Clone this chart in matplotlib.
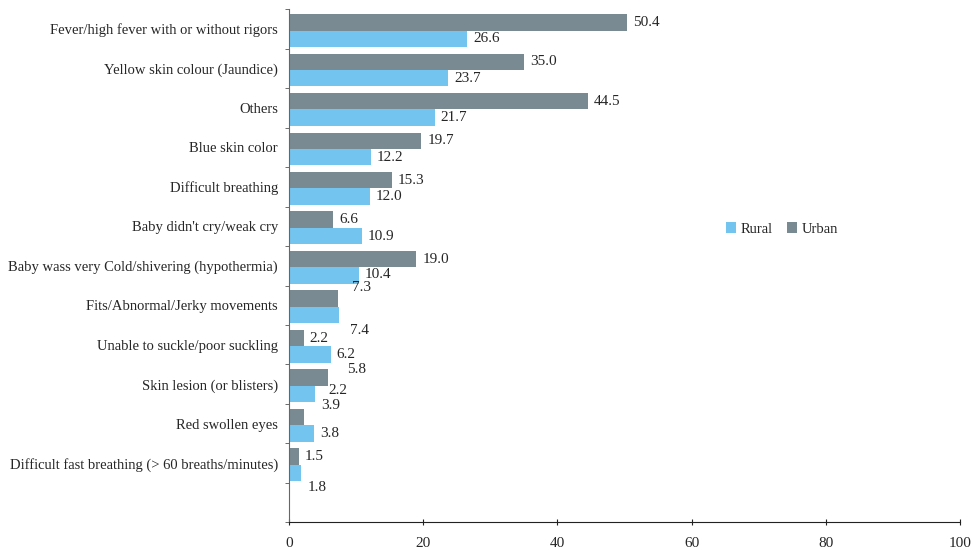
import matplotlib.pyplot as plt
import numpy as np

categories = [
    "Fever/high fever with or without rigors",
    "Yellow skin colour (Jaundice)",
    "Others",
    "Blue skin color",
    "Difficult breathing",
    "Baby didn't cry/weak cry",
    "Baby wass very Cold/shivering (hypothermia)",
    "Fits/Abnormal/Jerky movements",
    "Unable to suckle/poor suckling",
    "Skin lesion (or blisters)",
    "Red swollen eyes",
    "Difficult fast breathing (> 60 breaths/minutes)",
]
urban = [50.4, 35.0, 44.5, 19.7, 15.3, 6.6, 19.0, 7.3, 2.2, 5.8, 2.2, 1.5]
rural = [26.6, 23.7, 21.7, 12.2, 12.0, 10.9, 10.4, 7.4, 6.2, 3.9, 3.8, 1.8]

# label nudges (in pixels) copied from the source, where labels were dragged around
urban_nudge = {7: (8, 11), 9: (13, 8), 10: (19, 26)}
rural_nudge = {6: (0, 1), 7: (5, -16), 9: (0, -12), 11: (1, -15)}

plt.rcParams['font.family'] = ['Liberation Serif', 'DejaVu Serif']

c_urban = '#7a8a93'
c_rural = '#73c4ef'
txt = '#262626'

fig = plt.figure(figsize=(9.73, 5.5), dpi=100)
ax = fig.add_axes([289/973, 1 - 522.3/550, 671/973, 513/550])

y = np.arange(len(categories))
h = 0.415
ax.barh(y - 0.17, urban, height=h, color=c_urban, label='Urban')
ax.barh(y + 0.245, rural, height=h, color=c_rural, label='Rural')

px = 0.72  # points per pixel at 100 dpi
for i in range(len(categories)):
    dx, dy = urban_nudge.get(i, (0, 0))
    ax.annotate(f"{urban[i]:.1f}", (urban[i], y[i] - 0.17),
                xytext=((6 + dx) * px, dy * px), textcoords='offset points',
                va='center', ha='left', fontsize=11, color=txt)
    dx, dy = rural_nudge.get(i, (0, 0))
    ax.annotate(f"{rural[i]:.1f}", (rural[i], y[i] + 0.245),
                xytext=((6 + dx) * px, dy * px), textcoords='offset points',
                va='center', ha='left', fontsize=11, color=txt)

ax.set_xlim(0, 100)
ax.set_ylim(len(categories) + 0.5, -0.5)
ax.set_xticks(np.arange(0, 101, 20))
ax.set_yticks(y)
ax.set_yticklabels(categories)
ax.set_yticks(np.arange(-0.5, len(categories) + 0.6, 1), minor=True)
ax.tick_params(axis='y', which='major', length=0, pad=8, labelsize=10.5, labelcolor=txt)
ax.tick_params(axis='y', which='minor', length=3, color='#555555')
ax.tick_params(axis='x', direction='inout', length=5, pad=8, labelsize=11, labelcolor=txt, color='#222222')

ax.spines['top'].set_visible(False)
ax.spines['right'].set_visible(False)
ax.spines['left'].set_color('#666666')
ax.spines['bottom'].set_color('#222222')

handles, labels = ax.get_legend_handles_labels()
fig.legend(handles[::-1], labels[::-1], loc='center', bbox_to_anchor=(782/973, 1 - 229/550),
           ncol=2, frameon=False, fontsize=10.5, handlelength=0.7, handleheight=0.7,
           handletextpad=0.3, columnspacing=1.0, labelcolor=txt)

fig.savefig('out.png', dpi=100)
